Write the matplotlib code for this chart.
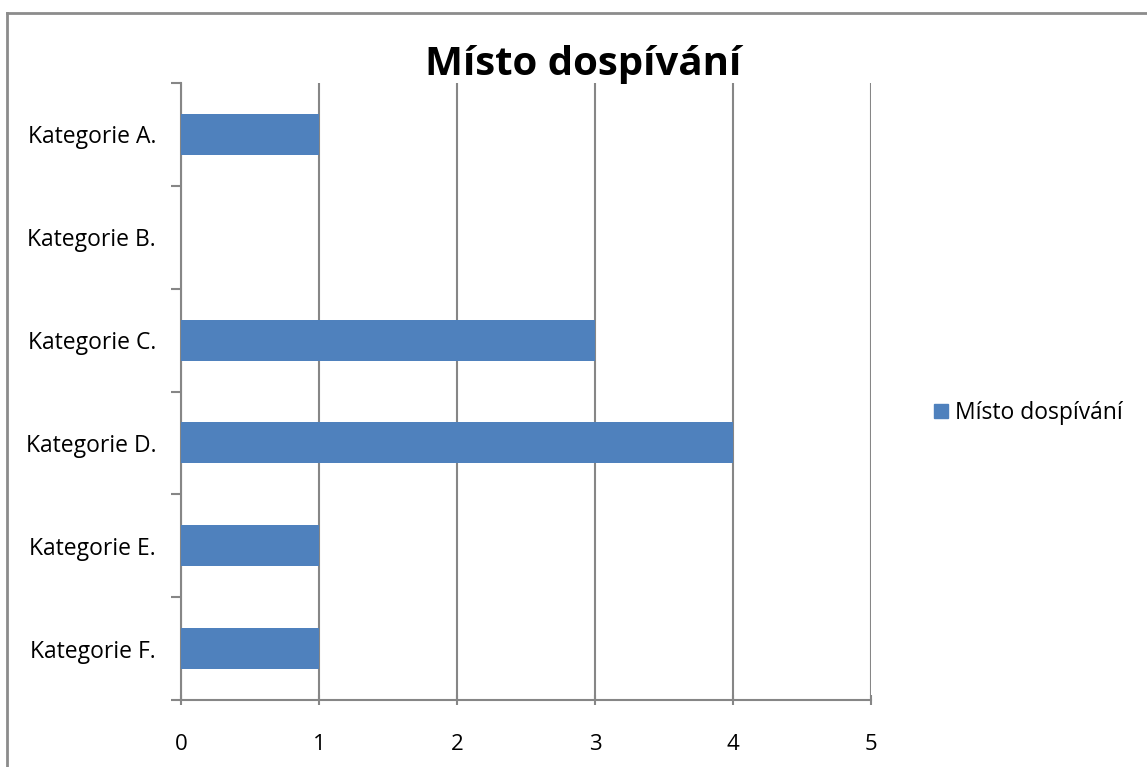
import numpy as np
from matplotlib import pyplot as plt
from matplotlib.lines import Line2D

categories = ['Kategorie A.', 'Kategorie B.', 'Kategorie C.',
              'Kategorie D.', 'Kategorie E.', 'Kategorie F.']
values = [1, 0, 3, 4, 1, 1]
series_name = 'Místo dospívání'
x_ticks = [0, 1, 2, 3, 4, 5]

plt.rcParams['font.family'] = ['Open Sans', 'DejaVu Sans']

W, H = 1147, 767
fig = plt.figure(figsize=(W / 100, H / 100), dpi=100)
ax = fig.add_axes([181 / W, 1 - 700 / H, (871 - 181) / W, (700 - 83) / H])

bar_color = '#4F81BD'
grid_color = '#868686'

y = np.arange(len(categories))
ax.barh(y, values, height=0.4, color=bar_color, label=series_name, zorder=3)

ax.set_ylim(len(categories) - 0.5, -0.5)
ax.set_xlim(0, 5)

# category boundaries as ticks, labels in the middle
ax.set_yticks(np.arange(len(categories) + 1) - 0.5)
ax.set_yticklabels([])
ax.set_yticks(y, minor=True)
ax.set_yticklabels(categories, minor=True, fontsize=16.5)
ax.tick_params(axis='y', which='minor', length=0, pad=18)
ax.tick_params(axis='y', which='major', length=7, width=1.5, color=grid_color)

ax.set_xticks(x_ticks)
ax.set_xticklabels([str(t) for t in x_ticks], fontsize=16)
ax.tick_params(axis='x', length=7, width=1.5, color=grid_color,
               direction='inout', pad=21)

ax.grid(axis='x', color=grid_color, linewidth=1.5, zorder=0)
for s in ['top', 'right']:
    ax.spines[s].set_visible(False)
for s in ['left', 'bottom']:
    ax.spines[s].set_color(grid_color)
    ax.spines[s].set_linewidth(1.5)

fig.text(583 / W, 1 - 64 / H, series_name, fontsize=29, fontweight='bold',
         ha='center', va='center')

handle = Line2D([], [], marker='s', linestyle='none', color=bar_color,
                markersize=10.5)
fig.legend([handle], [series_name], loc='center left',
           bbox_to_anchor=(918 / W, 1 - 413 / H), frameon=False,
           fontsize=16.5, handletextpad=0.1, borderpad=0, handlelength=1)

# outer chart border (top and left visible)
fig.add_artist(Line2D([6.5 / W, 6.5 / W], [0, 1 - 12.5 / H], color='#8c8c8c',
                      linewidth=2, transform=fig.transFigure))
fig.add_artist(Line2D([6.5 / W, 1], [1 - 12.5 / H, 1 - 12.5 / H],
                      color='#8c8c8c', linewidth=2, transform=fig.transFigure))

fig.savefig('out.png', dpi=100)
